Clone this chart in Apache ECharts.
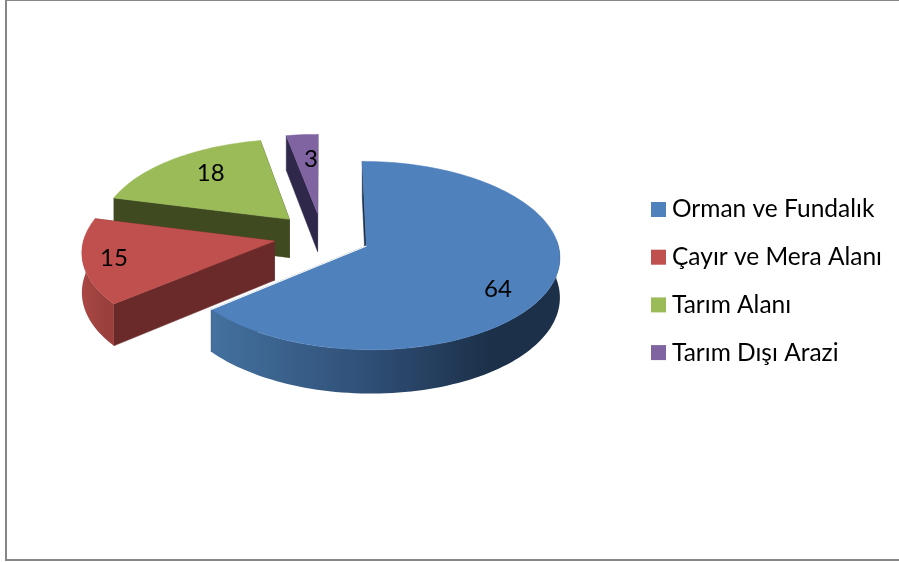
<!DOCTYPE html>
<html><head><meta charset="utf-8">
<style>html,body{margin:0;padding:0;background:#fff}#c{width:899px;height:562px}</style>
<script src="https://cdn.jsdelivr.net/npm/echarts@6/dist/echarts.min.js"></script>
</head><body><div id="c"></div>
<script>
const categories = ['Orman ve Fundalık', 'Çayır ve Mera Alanı', 'Tarım Alanı', 'Tarım Dışı Arazi'];
const values = [64, 15, 18, 3];
const topColors = ['#4F81BD', '#C0504D', '#9BBB59', '#8064A2'];
const cutColors = ['#1C3049', '#6B2A2A', '#3F4A21', '#30284A'];
const wallStops = [
  ['#44719F', '#2F4F76', '#1C3049'],
  ['#A94744', '#A04340', '#9A3F3C'],
  ['#4A5829', '#3F4A21', '#3F4A21'],
  ['#30284A', '#30284A', '#30284A']
];
const labelReach = [0.78, 0.84, 0.72, 0.67];
const labelTurnDeg = [9, 0, 4, 2];

const view = {cx: 322, cy: 236, R: 190, tilt: 0.48, persp: 0.10, depth: 39, explode: 0.255};
const total = values.reduce((a, b) => a + b, 0);
const frontFrom = 86 * Math.PI / 180, frontTo = 274 * Math.PI / 180;

function sliceAngles(i) {
  let s = 0;
  for (let k = 0; k < i; k++) s += values[k];
  return [s / total * Math.PI * 2, (s + values[i]) / total * Math.PI * 2];
}
function project(u, v, down) {
  const s = 1 / (1 - view.persp * v);
  return [view.cx + view.R * u * s, view.cy + view.R * view.tilt * v * s + down * s];
}
function renderSlice(params, api) {
  const i = params.seriesIndex;
  const [a0, a1] = sliceAngles(i);
  const val = api.value(0);
  const mid = (a0 + a1) / 2;
  const ou = view.explode * Math.sin(mid), ov = -view.explode * Math.cos(mid);
  const at = (a, r, down) => project(ou + r * Math.sin(a), ov - r * Math.cos(a), down);
  const arc = (from, to, down) => {
    const steps = Math.max(4, Math.ceil((to - from) / 0.03));
    const pts = [];
    for (let k = 0; k <= steps; k++) pts.push(at(from + (to - from) * k / steps, 1, down));
    return pts;
  };
  const topArc = arc(a0, a1, 0);
  const apex = at(0, 0, 0), apexLow = at(0, 0, view.depth);
  const quad = (p, q, color) => ({
    type: 'polygon',
    shape: {points: [apex, p, q, apexLow]},
    style: {fill: color, stroke: color, lineWidth: 0.5}
  });
  const stops = wallStops[i];
  const lp = at(mid + labelTurnDeg[i] * Math.PI / 180, labelReach[i], 0);
  const children = [
    quad(at(a0, 1, 0), at(a0, 1, view.depth), cutColors[i]),
    quad(at(a1, 1, 0), at(a1, 1, view.depth), cutColors[i])
  ];
  const wFrom = Math.max(a0, frontFrom), wTo = Math.min(a1, frontTo);
  if (wTo > wFrom) {
    children.push({
      type: 'polygon',
      shape: {points: arc(wFrom, wTo, 0).concat(arc(wFrom, wTo, view.depth).reverse())},
      style: {
        fill: {type: 'linear', x: 1, y: 0, x2: 0, y2: 0, colorStops: [
          {offset: 0, color: stops[2]},
          {offset: 0.2, color: stops[2]},
          {offset: 0.55, color: stops[1]},
          {offset: 1, color: stops[0]}
        ]}
      }
    });
  }
  children.push({
    type: 'polygon',
    shape: {points: [apex].concat(topArc)},
    style: {fill: topColors[i], stroke: topColors[i], lineWidth: 0.5}
  });
  if (i === 0) {
    children.push({
      type: 'line',
      shape: {x1: apex[0], y1: apex[1], x2: topArc[topArc.length - 1][0], y2: topArc[topArc.length - 1][1]},
      style: {stroke: '#fff', lineWidth: 1.2}
    });
  }
  children.push({
    type: 'text',
    x: lp[0], y: lp[1],
    style: {text: String(val), fill: '#000', font: '24px Lato, "Open Sans", sans-serif', align: 'center', verticalAlign: 'middle'}
  });
  return {type: 'group', children};
}

const paintOrder = [3, 2, 1, 0];
const chart = echarts.init(document.getElementById('c'), null, {renderer: 'canvas'});
chart.setOption({
  animation: false,
  backgroundColor: '#fff',
  graphic: [{
    type: 'rect', z: 0, silent: true,
    shape: {x: 6, y: 0, width: 1000, height: 560},
    style: {fill: 'none', stroke: '#868686', lineWidth: 2}
  }],
  legend: {
    orient: 'vertical', left: 651, top: 197, padding: 0,
    data: categories, icon: 'rect',
    itemWidth: 15, itemHeight: 15, itemGap: 22.7,
    selectedMode: false,
    textStyle: {fontFamily: 'Lato, "Open Sans", sans-serif', fontSize: 24.5, color: '#000', lineHeight: 24, padding: [0, 0, 0, 1]}
  },
  series: categories.map((name, i) => ({
    type: 'custom', name, coordinateSystem: 'none',
    z: 2 + paintOrder.indexOf(i),
    itemStyle: {color: topColors[i]},
    data: [[values[i]]],
    renderItem: renderSlice
  }))
});
</script></body></html>
